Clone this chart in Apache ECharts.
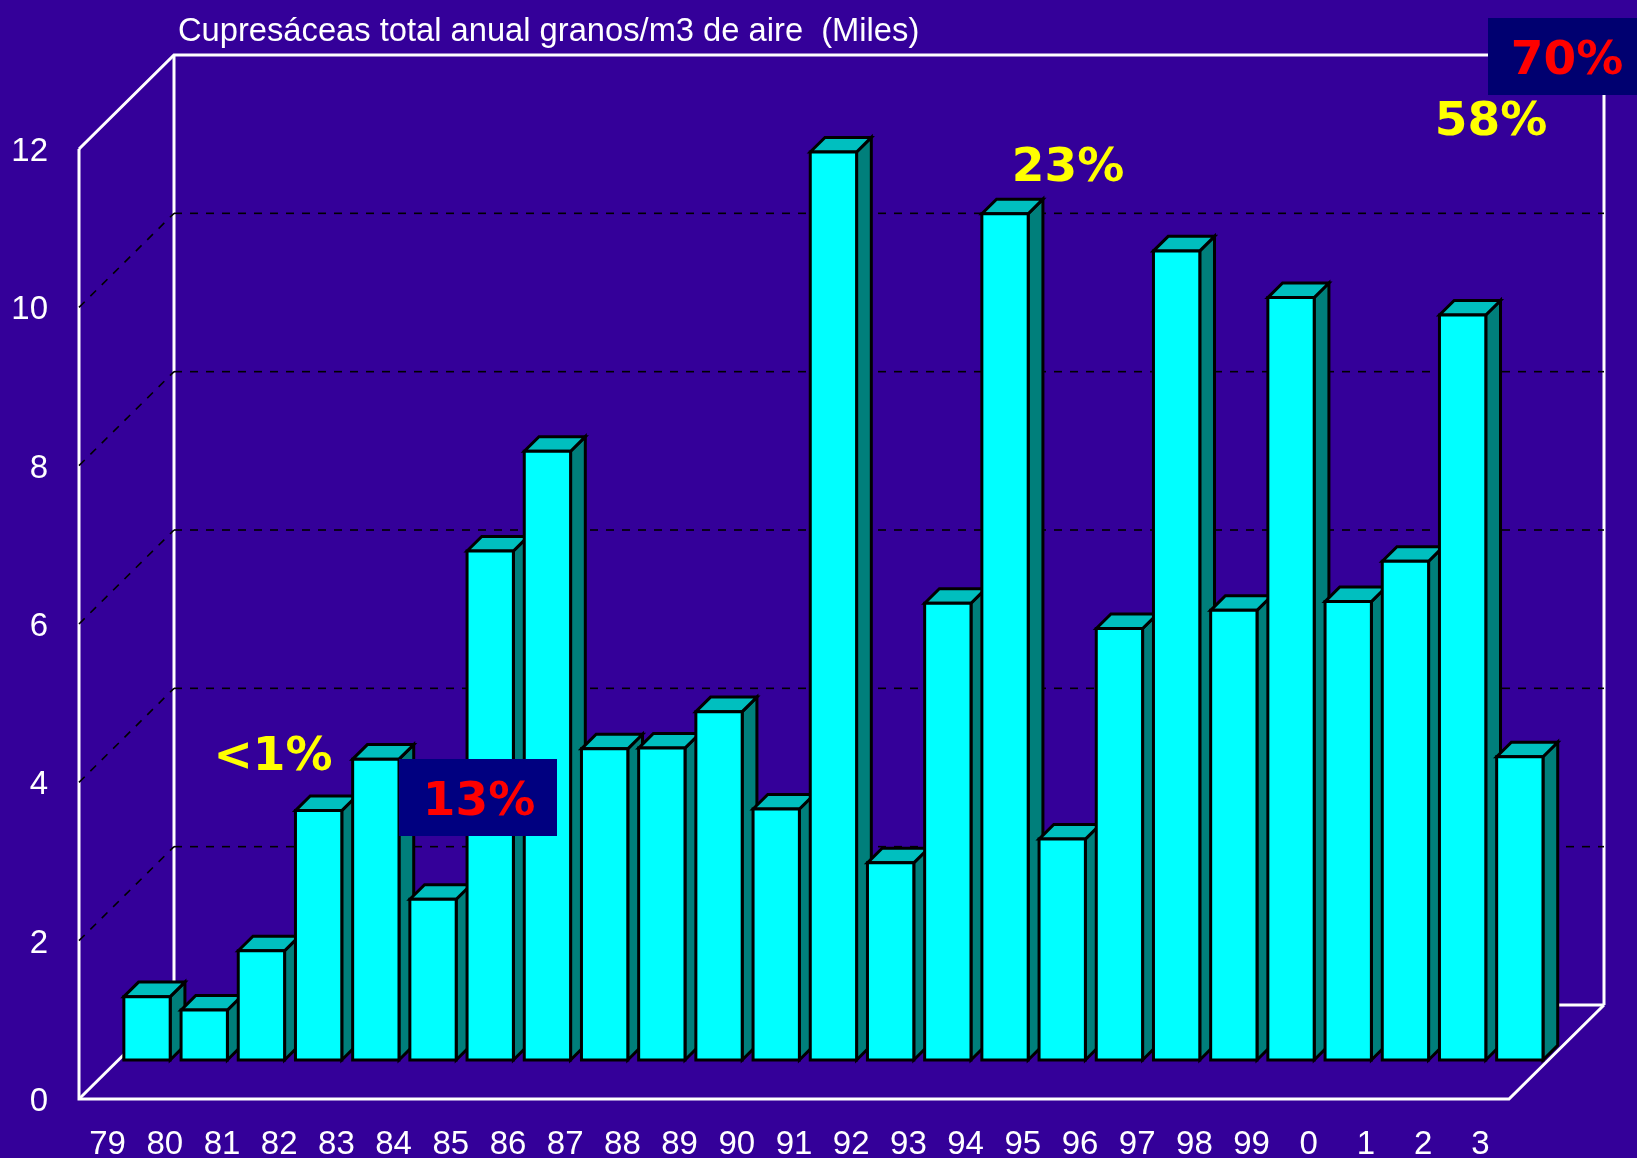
<!DOCTYPE html>
<html lang="es">
<head>
<meta charset="utf-8">
<title>Cupresáceas total anual</title>
<script src="https://cdn.jsdelivr.net/npm/echarts@6.0.0/dist/echarts.min.js"></script>
<style>
  html, body { margin: 0; padding: 0; background: #340099; }
  #chart { width: 1637px; height: 1158px; }
</style>
</head>
<body>
<div id="chart"></div>
<script>
// Annual Cupressaceae pollen totals (thousands of grains per m3 of air)
const years = ['79','80','81','82','83','84','85','86','87','88','89','90','91','92','93','94','95','96','97','98','99','0','1','2','3'];
const pollenThousands = [0.80, 0.63, 1.38, 3.15, 3.80, 2.03, 6.43, 7.69, 3.93, 3.94, 4.40, 3.17, 11.47, 2.49, 5.77, 10.69, 2.79, 5.45, 10.22, 5.68, 9.63, 5.79, 6.30, 9.41, 3.83];
const yTickValues = [2, 4, 6, 8, 10];
const yMin = 0, yMax = 12, yStep = 2;
const titleText = 'Cupresáceas total anual granos/m3 de aire  (Miles)';
const shareLabels = ['<1%', '13%', '23%', '58%', '70%'];

// Oblique projection: screen offset from the front edge of the box to its back wall
const DEPTH_X = 95, DEPTH_Y = -94;
// Bars sit inside the box depth between these fractions
const BAR_FRONT = 0.415, BAR_BACK = 0.57;
const BAR_FRACTION = 0.81;

const BG = '#340099';
const FRAME = '#ffffff';
const LABEL_FONT = '"Liberation Sans", Arial, sans-serif';
const SHARE_FONT = 'bold 47px "DejaVu Sans", Verdana, sans-serif';

const chart = echarts.init(document.getElementById('chart'), null, { renderer: 'canvas' });

function renderFrame(params, api) {
  const cs = params.coordSys;
  const x0 = cs.x, x1 = cs.x + cs.width;
  const yBot = api.coord([0, yMin])[1];
  const yTop = api.coord([0, yMax])[1];
  const bx0 = x0 + DEPTH_X, bx1 = x1 + DEPTH_X;
  const byTop = yTop + DEPTH_Y, byBot = yBot + DEPTH_Y;
  const st = { stroke: FRAME, lineWidth: 3, fill: null, lineJoin: 'miter' };
  return {
    type: 'group',
    children: [
      // back wall and left wall top edge
      { type: 'polyline', shape: { points: [[x0, yTop], [bx0, byTop], [bx1, byTop], [bx1, byBot]] }, style: st },
      { type: 'polyline', shape: { points: [[bx0, byTop], [bx0, byBot], [bx1, byBot]] }, style: st },
      // front edges and floor
      { type: 'polyline', shape: { points: [[x0, yTop], [x0, yBot], [x1, yBot], [bx1, byBot]] }, style: st },
      { type: 'line', shape: { x1: x0, y1: yBot, x2: bx0, y2: byBot }, style: st }
    ]
  };
}

function renderGridLine(params, api) {
  const cs = params.coordSys;
  const x0 = cs.x, x1 = cs.x + cs.width;
  const y = api.coord([0, api.value(1)])[1];
  const st = { stroke: '#000000', lineWidth: 1.6, lineDash: [8, 8] };
  return {
    type: 'group',
    children: [
      { type: 'line', shape: { x1: x0, y1: y, x2: x0 + DEPTH_X, y2: y + DEPTH_Y }, style: st },
      { type: 'line', shape: { x1: x0 + DEPTH_X, y1: y + DEPTH_Y, x2: x1 + DEPTH_X, y2: y + DEPTH_Y }, style: st }
    ]
  };
}

function renderBar(params, api) {
  const idx = api.value(0);
  const val = api.value(1);
  const base = api.coord([idx, 0]);
  const top = api.coord([idx, val]);
  const w = api.size([1, 0])[0] * BAR_FRACTION;
  const fx = base[0] + DEPTH_X * BAR_FRONT;
  const fy0 = base[1] + DEPTH_Y * BAR_FRONT;
  const fy1 = top[1] + DEPTH_Y * BAR_FRONT;
  const dx = DEPTH_X * (BAR_BACK - BAR_FRONT);
  const dy = DEPTH_Y * (BAR_BACK - BAR_FRONT);
  const l = fx - w / 2, r = fx + w / 2;
  const edge = { stroke: '#000000', lineWidth: 3, lineJoin: 'miter' };
  return {
    type: 'group',
    children: [
      { type: 'polygon', shape: { points: [[r, fy1], [r + dx, fy1 + dy], [r + dx, fy0 + dy], [r, fy0]] },
        style: Object.assign({ fill: '#007f7b' }, edge) },
      { type: 'polygon', shape: { points: [[l, fy1], [l + dx, fy1 + dy], [r + dx, fy1 + dy], [r, fy1]] },
        style: Object.assign({ fill: '#00bfbf' }, edge) },
      { type: 'polygon', shape: { points: [[l, fy1], [r, fy1], [r, fy0], [l, fy0]] },
        style: Object.assign({ fill: '#00ffff' }, edge) }
    ]
  };
}

function shareText(text, x, y, color) {
  return {
    type: 'text', x: x, y: y, z: 20,
    style: { text: text, fill: color, font: SHARE_FONT, textAlign: 'center', textVerticalAlign: 'middle', align: 'center', verticalAlign: 'middle' }
  };
}

chart.setOption({
  backgroundColor: BG,
  animation: false,
  title: {
    text: titleText,
    left: 173, top: 10,
    textStyle: { color: '#ffffff', fontSize: 32.7, fontWeight: 'normal', fontFamily: LABEL_FONT }
  },
  grid: { left: 79, top: 149, width: 1430, height: 950, containLabel: false, outerBoundsMode: 'none' },
  xAxis: {
    type: 'category',
    data: years,
    axisLine: { show: false },
    axisTick: { show: false },
    splitLine: { show: false },
    axisLabel: { color: '#ffffff', fontSize: 33, fontFamily: LABEL_FONT, margin: 29, interval: 0 }
  },
  yAxis: {
    type: 'value',
    min: yMin, max: yMax, interval: yStep,
    axisLine: { show: false },
    axisTick: { show: false },
    splitLine: { show: false },
    axisLabel: {
      color: '#ffffff', fontSize: 33, fontFamily: LABEL_FONT, margin: 31,
      formatter: '{v|{value}}',
      rich: { v: { color: '#ffffff', fontSize: 33, fontFamily: LABEL_FONT, padding: [6, 0, 0, 0] } }
    }
  },
  series: [
    { type: 'custom', name: 'frame', z: 1, silent: true, renderItem: renderFrame, data: [[0, 0]] },
    { type: 'custom', name: 'gridlines', z: 1, silent: true, renderItem: renderGridLine,
      data: yTickValues.map(v => [0, v]) },
    { type: 'custom', name: 'Cupresáceas', z: 2, renderItem: renderBar,
      data: pollenThousands.map((v, i) => [i, v]) }
  ],
  graphic: [
    { type: 'rect', z: 10, shape: { x: 399, y: 759, width: 158, height: 77 }, style: { fill: '#000080' } },
    { type: 'rect', z: 10, shape: { x: 1488, y: 18, width: 149, height: 77 }, style: { fill: '#000070' } },
    shareText(shareLabels[0], 273, 758, '#ffff00'),
    shareText(shareLabels[1], 479, 803, '#ff0000'),
    shareText(shareLabels[2], 1068, 169, '#ffff00'),
    shareText(shareLabels[3], 1491, 123, '#ffff00'),
    shareText(shareLabels[4], 1567, 62, '#ff0000')
  ]
});
</script>
</body>
</html>
